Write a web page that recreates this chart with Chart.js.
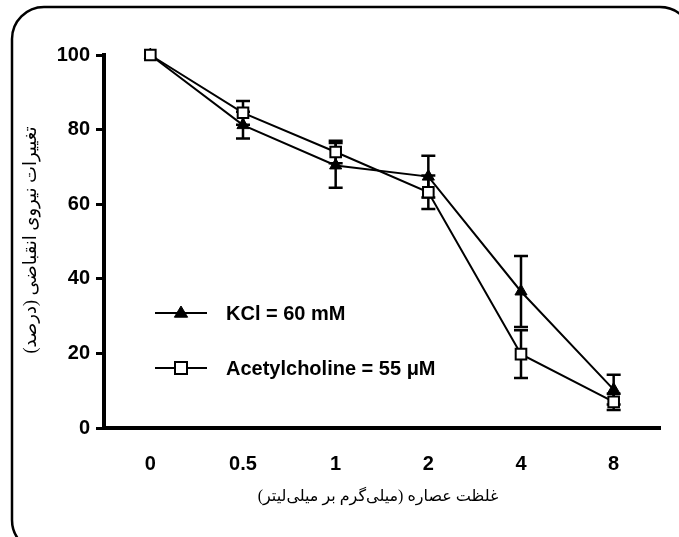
<!DOCTYPE html>
<html>
<head>
<meta charset="utf-8">
<script src="https://cdn.jsdelivr.net/npm/chart.js@4.4.1/dist/chart.umd.min.js"></script>
<style>
  html, body { margin: 0; padding: 0; background: #fff; }
  #wrap { width: 679px; height: 537px; }
</style>
</head>
<body>
<div id="wrap"><canvas id="chart" width="679" height="537"></canvas></div>
<script>
// --- data ---
const doses = ['0', '0.5', '1', '2', '4', '8'];
const kclMean = [100, 81.2, 70.4, 67.4, 36.6, 10.3];
const kclSem = [0, 3.6, 6.0, 5.6, 9.5, 4.0];
const achMean = [100, 84.5, 74.0, 63.2, 19.8, 7.0];
const achSem = [0, 3.2, 3.0, 4.5, 6.4, 2.2];
const yTicks = [0, 20, 40, 60, 80, 100];

const seriesLabels = ['KCl = 60 mM', 'Acetylcholine = 55 \u03bcM'];
const xTitle = 'غلظت عصاره (میلی\u200cگرم بر میلی\u200cلیتر)';
const yTitle = 'تغییرات نیروی انقباضی (درصد)';

const tickFont = { family: 'Arial, "Liberation Sans", sans-serif', size: 20, weight: 'bold' };
const faFamily = '"Times New Roman", "Liberation Serif", "DejaVu Sans", serif';

// rounded frame + axis titles
const framePlugin = {
  id: 'frame',
  afterDraw(chart) {
    const ctx = chart.ctx;
    ctx.save();
    ctx.strokeStyle = '#000';
    ctx.lineWidth = 2.5;
    ctx.beginPath();
    ctx.roundRect(12, 7, 680, 545, 32);
    ctx.stroke();

    ctx.fillStyle = '#000';
    ctx.textAlign = 'center';
    ctx.textBaseline = 'middle';
    ctx.direction = 'rtl';
    ctx.font = '16px ' + faFamily;
    ctx.fillText(xTitle, 378, 497);
    ctx.translate(31, 240);
    ctx.rotate(-Math.PI / 2);
    ctx.font = '18px ' + faFamily;
    ctx.fillText(yTitle, 0, 0);
    ctx.restore();
  }
};

// mean +/- SEM bars, drawn under the markers
const errorBarPlugin = {
  id: 'errorBars',
  beforeDatasetsDraw(chart) {
    const ctx = chart.ctx;
    const yScale = chart.scales.y;
    const sems = [kclSem, achSem];
    ctx.save();
    ctx.strokeStyle = '#000';
    ctx.lineWidth = 2.5;
    chart.data.datasets.forEach((ds, di) => {
      const meta = chart.getDatasetMeta(di);
      meta.data.forEach((pt, i) => {
        const s = sems[di][i];
        if (!s) return;
        const yTop = yScale.getPixelForValue(ds.data[i] + s);
        const yBot = yScale.getPixelForValue(ds.data[i] - s);
        ctx.beginPath();
        ctx.moveTo(pt.x, yTop); ctx.lineTo(pt.x, yBot);
        ctx.moveTo(pt.x - 7, yTop); ctx.lineTo(pt.x + 7, yTop);
        ctx.moveTo(pt.x - 7, yBot); ctx.lineTo(pt.x + 7, yBot);
        ctx.stroke();
      });
    });
    ctx.restore();
  }
};

// legend placed inside the plot area
const legendPlugin = {
  id: 'insideLegend',
  afterDraw(chart) {
    const ctx = chart.ctx;
    const rows = [313, 368];
    ctx.save();
    chart.data.datasets.forEach((ds, di) => {
      const y = rows[di];
      ctx.strokeStyle = '#000';
      ctx.lineWidth = 2;
      ctx.beginPath();
      ctx.moveTo(155, y); ctx.lineTo(207, y);
      ctx.stroke();
      ctx.fillStyle = ds.pointBackgroundColor;
      ctx.strokeStyle = '#000';
      ctx.lineWidth = ds.pointBorderWidth;
      ctx.beginPath();
      if (ds.pointStyle === 'triangle') {
        const r = ds.pointRadius;
        ctx.moveTo(181, y - r); ctx.lineTo(181 + r * 0.95, y + r * 0.6); ctx.lineTo(181 - r * 0.95, y + r * 0.6);
        ctx.closePath();
      } else {
        const h = ds.pointRadius * 0.8;
        ctx.rect(181 - h, y - h, 2 * h, 2 * h);
      }
      ctx.fill(); ctx.stroke();
      ctx.fillStyle = '#000';
      ctx.font = 'bold 20px Arial, "Liberation Sans", sans-serif';
      ctx.textAlign = 'left';
      ctx.textBaseline = 'middle';
      ctx.fillText(ds.label, 226, y + 1);
    });
    ctx.restore();
  }
};

new Chart(document.getElementById('chart'), {
  type: 'line',
  data: {
    labels: doses,
    datasets: [
      {
        label: seriesLabels[0], data: kclMean, order: 1, clip: false,
        borderColor: '#000', borderWidth: 2,
        pointStyle: 'triangle', pointRadius: 7, pointBorderWidth: 1,
        pointBackgroundColor: '#000', pointBorderColor: '#000'
      },
      {
        label: seriesLabels[1], data: achMean, order: 0, clip: false,
        borderColor: '#000', borderWidth: 2,
        pointStyle: 'rect', pointRadius: 7.5, pointBorderWidth: 2,
        pointBackgroundColor: '#fff', pointBorderColor: '#000'
      }
    ]
  },
  options: {
    responsive: false,
    animation: false,
    layout: { padding: { top: 55, right: 19, bottom: 0, left: 0 } },
    plugins: { legend: { display: false }, tooltip: { enabled: false } },
    scales: {
      x: {
        offset: true,
        grid: { display: false, drawTicks: false },
        border: { color: '#000', width: 4 },
        ticks: { color: '#000', font: tickFont, padding: 24 },
        afterFit: s => { s.height = 109; }
      },
      y: {
        min: 0, max: 100,
        afterBuildTicks: s => { s.ticks = yTicks.map(v => ({ value: v })); },
        grid: { drawOnChartArea: false, color: '#000', lineWidth: 3, tickLength: 8 },
        border: { color: '#000', width: 4 },
        ticks: { color: '#000', font: tickFont, padding: 6 },
        afterFit: s => { s.width = 104; }
      }
    }
  },
  plugins: [errorBarPlugin, legendPlugin, framePlugin]
});
</script>
</body>
</html>
